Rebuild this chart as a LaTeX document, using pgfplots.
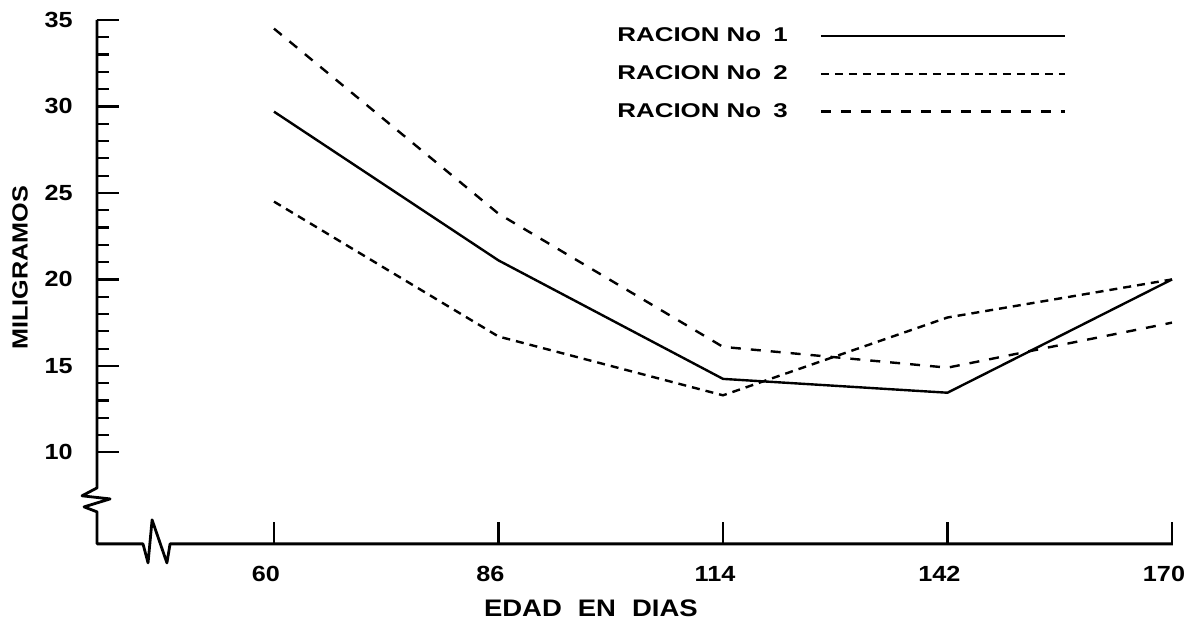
\documentclass[border=0pt]{standalone}
\usepackage{fontspec}
\setmainfont{Liberation Sans}
\newfontfamily\legfont{Liberation Sans}[FakeStretch=1.3]
\newfontfamily\labfont{Liberation Sans}[FakeStretch=1.15]
\usepackage{pgfplots}
\pgfplotsset{compat=1.18}

\begin{document}
\begin{tikzpicture}
\begin{axis}[
    scale only axis,
    width=538bp, height=262bp,
    xmin=-0.788, xmax=4.004,
    ymin=4.71, ymax=35,
    clip=false,
    separate axis lines,
    axis line style={draw=none},
    xtick={0,1,2,3,4},
    xticklabels={60,86,114,142,170},
    ytick={10,15,...,35},
    minor y tick num=4,
    xtick pos=left, ytick pos=left,
    tick align=inside,
    major tick length=11bp, minor tick length=6bp,
    tick style={black, line width=1.1bp},
    /pgf/number format/assume math mode=true,
    xticklabel style={font=\labfont\bfseries\fontsize{11}{13}\selectfont, anchor=north, inner sep=0pt, yshift=-11bp, xshift=-4bp},
    yticklabel style={font=\labfont\bfseries\fontsize{11}{13}\selectfont, anchor=east, inner sep=0pt, xshift=-12bp},
    xlabel={EDAD\hspace{8bp}EN\hspace{8bp}DIAS},
    xlabel style={at={(axis description cs:0.459,-0.122)}, anchor=center, font=\labfont\bfseries\fontsize{12}{14}\selectfont},
    ylabel={MILIGRAMOS},
    ylabel style={at={(axis description cs:-0.0716,0.527)}, anchor=center, font=\labfont\bfseries\fontsize{11}{13}\selectfont},
    legend style={at={(axis description cs:0.4833,0.9866)}, anchor=north west, draw=none, fill=none,
        inner sep=0pt, row sep=10.5bp, nodes={inner sep=0pt},
        font=\legfont\bfseries\fontsize{10}{12}\selectfont,
        /tikz/every odd column/.append style={column sep=16bp}},
    legend cell align=left,
    legend plot pos=right,
    legend image code/.code={\draw[#1] (0bp,0bp) -- (122bp,0bp);},
]
% RACION No 1
\addplot[black, line width=1.2bp] coordinates {
    (0,29.7) (1,21.1) (2,14.25) (3,13.45) (4,20.0)
};
\addlegendentry{RACION No\hspace{6bp}1}
% RACION No 2
\addplot[black, line width=1.2bp, dash pattern=on 4bp off 3bp] coordinates {
    (0,24.5) (1,16.7) (2,13.3) (3,17.8) (4,20.0)
};
\addlegendentry{RACION No\hspace{6bp}2}
% RACION No 3
\addplot[black, line width=1.2bp, dash pattern=on 5bp off 5bp] coordinates {
    (0,34.5) (1,23.8) (2,16.1) (3,14.9) (4,17.5)
};
\addlegendentry{RACION No\hspace{6bp}3}

% axis lines with breaks
\draw[line width=1.4bp, line join=round]
    (axis cs:-0.788,35) -- (axis cs:-0.788,7.95) -- (axis cs:-0.855,7.49)
    -- (axis cs:-0.73,7.31) -- (axis cs:-0.846,6.85) -- (axis cs:-0.788,6.56)
    -- (axis cs:-0.788,4.71) -- (axis cs:-0.5835,4.71) -- (axis cs:-0.561,3.61)
    -- (axis cs:-0.543,6.1) -- (axis cs:-0.477,3.61) -- (axis cs:-0.463,4.71)
    -- (axis cs:4.004,4.71);

\coordinate (bl) at (axis cs:-1.2205,-0.029);
\coordinate (tr) at (axis cs:4.0891,36.156);
\end{axis}
\pgfresetboundingbox
\path[use as bounding box] (bl) rectangle (tr);
\end{tikzpicture}
\end{document}
